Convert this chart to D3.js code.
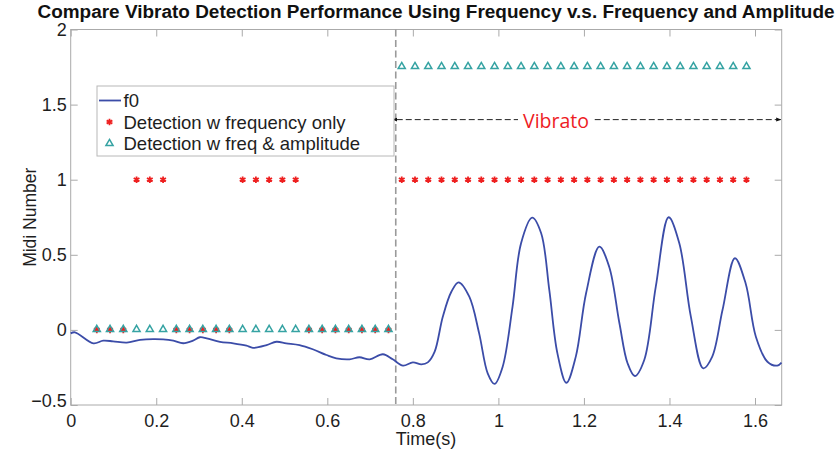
<!DOCTYPE html>
<html>
<head>
<meta charset="utf-8">
<script src="https://cdn.jsdelivr.net/npm/d3@7"></script>
<style>
  html, body { margin: 0; padding: 0; background: #fff; }
  svg { display: block; }
</style>
</head>
<body>
<svg id="chart" width="837" height="453"></svg>
<script>
// ---- data ---------------------------------------------------------------
// pitch contour (seconds, midi offset)
const f0Time = [0.000, 0.010, 0.053, 0.076, 0.099, 0.131, 0.162, 0.193, 0.216, 0.240,
  0.263, 0.286, 0.302, 0.318, 0.349, 0.380, 0.411, 0.426, 0.458, 0.481,
  0.504, 0.535, 0.566, 0.598, 0.621, 0.652, 0.675, 0.699, 0.730, 0.753,
  0.777, 0.800, 0.820, 0.835, 0.851, 0.870, 0.890, 0.907, 0.932, 0.955,
  0.975, 0.991, 1.010, 1.033, 1.053, 1.079, 1.100, 1.119, 1.138, 1.159,
  1.181, 1.205, 1.236, 1.259, 1.283, 1.302, 1.319, 1.341, 1.368, 1.398,
  1.423, 1.450, 1.479, 1.500, 1.524, 1.553, 1.578, 1.602, 1.629, 1.652, 1.662];
const f0Midi = [-0.023, -0.016, -0.089, -0.072, -0.076, -0.085, -0.067, -0.061, -0.063, -0.072,
  -0.089, -0.072, -0.049, -0.056, -0.079, -0.089, -0.105, -0.119, -0.101, -0.079,
  -0.089, -0.101, -0.129, -0.167, -0.189, -0.196, -0.182, -0.196, -0.162, -0.196,
  -0.238, -0.216, -0.229, -0.216, -0.145, 0.088, 0.254, 0.317, 0.221, -0.023,
  -0.289, -0.360, -0.245, 0.154, 0.577, 0.747, 0.643, 0.266, -0.156, -0.352,
  -0.178, 0.244, 0.554, 0.421, 0.044, -0.222, -0.307, -0.200, 0.288, 0.750,
  0.577, 0.088, -0.256, -0.178, 0.132, 0.477, 0.310, -0.045, -0.212, -0.238, -0.218];

// analysis frame centres (seconds)
const frameTime = [0.061, 0.092, 0.123, 0.154, 0.185, 0.216, 0.247, 0.278, 0.309, 0.340,
  0.371, 0.402, 0.433, 0.464, 0.495, 0.526, 0.557, 0.588, 0.619, 0.650,
  0.681, 0.712, 0.743, 0.774, 0.805, 0.836, 0.867, 0.898, 0.929, 0.960,
  0.991, 1.022, 1.053, 1.084, 1.115, 1.146, 1.177, 1.208, 1.239, 1.270,
  1.301, 1.332, 1.363, 1.394, 1.425, 1.456, 1.487, 1.518, 1.549, 1.580];

// detector outputs per frame (plotted level)
const freqOnlyLevel = [0, 0, 0, 1, 1, 1, 0, 0, 0, 0,
  0, 1, 1, 1, 1, 1, 0, 0, 0, 0,
  0, 0, 0, 1, 1, 1, 1, 1, 1, 1,
  1, 1, 1, 1, 1, 1, 1, 1, 1, 1,
  1, 1, 1, 1, 1, 1, 1, 1, 1, 1];
const freqAmpLevel = [0, 0, 0, 0, 0, 0, 0, 0, 0, 0,
  0, 0, 0, 0, 0, 0, 0, 0, 0, 0,
  0, 0, 0, 1.75, 1.75, 1.75, 1.75, 1.75, 1.75, 1.75,
  1.75, 1.75, 1.75, 1.75, 1.75, 1.75, 1.75, 1.75, 1.75, 1.75,
  1.75, 1.75, 1.75, 1.75, 1.75, 1.75, 1.75, 1.75, 1.75, 1.75];

const xTicks = [0, 0.2, 0.4, 0.6, 0.8, 1, 1.2, 1.4, 1.6];
const yTicks = [-0.5, 0, 0.5, 1, 1.5, 2];
const xDomain = [0, 1.6624];
const yDomain = [-0.5, 2];

const vibratoOnset = 0.76;
const vibratoArrowLevel = 1.4;

const seriesNames = ["f0", "Detection w frequency only", "Detection w freq & amplitude"];
const titleText = "Compare Vibrato Detection Performance Using Frequency v.s. Frequency and Amplitude";

// ---- layout -------------------------------------------------------------
const plot = { left: 70.7, right: 781.7, top: 29.5, bottom: 405 };
const colors = { f0: "#3b4ca8", freq: "#ee2020", amp: "#36a3a3", axis: "#aaaaaa", text: "#1e1e1e" };
const font = "'Liberation Sans', Arial, Helvetica, sans-serif";

const svg = d3.select("#chart");
const x = d3.scaleLinear().domain(xDomain).range([plot.left, plot.right]);
const y = d3.scaleLinear().domain(yDomain).range([plot.bottom, plot.top]);
const fmt = d3.format("~g");

// ---- title --------------------------------------------------------------
svg.append("text")
  .attr("x", 436).attr("y", 18)
  .attr("text-anchor", "middle")
  .attr("font-family", font).attr("font-weight", "bold").attr("font-size", 18)
  .attr("fill", "#111")
  .attr("textLength", 797).attr("lengthAdjust", "spacingAndGlyphs")
  .text(titleText);

// ---- axes ---------------------------------------------------------------
const tick = 7;
function styleAxis(g) {
  g.select(".domain").remove();
  g.selectAll(".tick line").attr("stroke", colors.axis);
  g.selectAll(".tick text").attr("fill", colors.text).attr("font-family", font).attr("font-size", 18);
}
svg.append("g").attr("transform", `translate(0,${plot.bottom})`)
  .call(d3.axisBottom(x).tickValues(xTicks).tickFormat(fmt).tickSizeInner(-tick).tickSizeOuter(0).tickPadding(9))
  .call(styleAxis);
svg.append("g").attr("transform", `translate(0,${plot.top})`)
  .call(d3.axisTop(x).tickValues(xTicks).tickFormat("").tickSizeInner(-tick).tickSizeOuter(0))
  .call(styleAxis);
const yAxisG = svg.append("g").attr("transform", `translate(${plot.left},0)`)
  .call(d3.axisLeft(y).tickValues(yTicks).tickFormat(fmt).tickSizeInner(-tick).tickSizeOuter(0).tickPadding(4))
  .call(styleAxis);
// the lowest label sits a little higher so it clears the first time label
yAxisG.selectAll(".tick text").filter(d => d === yDomain[0]).attr("dy", "0.1em");
svg.append("g").attr("transform", `translate(${plot.right},0)`)
  .call(d3.axisRight(y).tickValues(yTicks).tickFormat("").tickSizeInner(-tick).tickSizeOuter(0))
  .call(styleAxis);

svg.append("rect")
  .attr("x", plot.left).attr("y", plot.top)
  .attr("width", plot.right - plot.left).attr("height", plot.bottom - plot.top)
  .attr("fill", "none").attr("stroke", colors.axis).attr("stroke-width", 1);

// axis titles
svg.append("text")
  .attr("x", 426).attr("y", 445)
  .attr("text-anchor", "middle")
  .attr("font-family", font).attr("font-size", 18).attr("fill", colors.text)
  .text("Time(s)");
svg.append("text")
  .attr("transform", `translate(36,${(plot.top + plot.bottom) / 2}) rotate(-90)`)
  .attr("text-anchor", "middle")
  .attr("font-family", font).attr("font-size", 17.5).attr("fill", colors.text)
  .text("Midi Number");

// ---- vibrato onset marker -------------------------------------------------
svg.append("line")
  .attr("x1", x(vibratoOnset)).attr("x2", x(vibratoOnset))
  .attr("y1", plot.top).attr("y2", plot.bottom)
  .attr("stroke", "#9a9a9a").attr("stroke-width", 1.6)
  .attr("stroke-dasharray", "7,3.5");

// ---- f0 contour ---------------------------------------------------------
const line = d3.line()
  .x((d, i) => x(f0Time[i]))
  .y(d => y(d))
  .curve(d3.curveCatmullRom.alpha(0.5));
svg.append("path")
  .attr("d", line(f0Midi))
  .attr("fill", "none")
  .attr("stroke", colors.f0).attr("stroke-width", 1.8)
  .attr("stroke-linejoin", "round");

// ---- detection markers --------------------------------------------------
const asterisk = d3.symbol().type(d3.symbolAsterisk).size(30);
const triangle = d3.symbol().type(d3.symbolTriangle).size(22);

svg.append("g").selectAll("path")
  .data(freqOnlyLevel)
  .join("path")
  .attr("transform", (d, i) => `translate(${x(frameTime[i])},${y(d)})`)
  .attr("d", asterisk)
  .attr("fill", "none").attr("stroke", colors.freq).attr("stroke-width", 1.8);

svg.append("g").selectAll("path")
  .data(freqAmpLevel)
  .join("path")
  .attr("transform", (d, i) => `translate(${x(frameTime[i])},${y(d) - 0.5})`)
  .attr("d", triangle)
  .attr("fill", "none").attr("stroke", colors.amp).attr("stroke-width", 1.5);

// ---- vibrato span annotation ----------------------------------------------
const ay = y(vibratoArrowLevel);
const defs = svg.append("defs");
["start", "end"].forEach(k => {
  defs.append("marker")
    .attr("id", "arrow-" + k)
    .attr("viewBox", "0 0 10 10").attr("refX", k === "end" ? 9 : 1).attr("refY", 5)
    .attr("markerWidth", 5).attr("markerHeight", 5)
    .attr("orient", k === "end" ? "auto" : "auto-start-reverse")
    .append("path").attr("d", "M0,1 L10,5 L0,9 Z").attr("fill", "#111");
});
const labelX = 556;
svg.append("line")
  .attr("x1", x(vibratoOnset) + 1).attr("x2", plot.right - 1)
  .attr("y1", ay).attr("y2", ay)
  .attr("stroke", "#222").attr("stroke-width", 1)
  .attr("stroke-dasharray", "6,3")
  .attr("marker-start", "url(#arrow-start)")
  .attr("marker-end", "url(#arrow-end)");
svg.append("rect")
  .attr("x", labelX - 38).attr("y", ay - 12).attr("width", 76).attr("height", 24)
  .attr("fill", "#fff");
svg.append("text")
  .attr("x", labelX).attr("y", ay + 8.3)
  .attr("text-anchor", "middle")
  .attr("font-family", "'Open Sans', 'Noto Sans', sans-serif").attr("font-size", 19.5)
  .attr("fill", "#ee1c24")
  .text("Vibrato");

// ---- legend -------------------------------------------------------------
const legend = svg.append("g").attr("transform", "translate(97,86)");
legend.append("rect")
  .attr("width", 297).attr("height", 70)
  .attr("fill", "#fff").attr("stroke", "#b8b8b8").attr("stroke-width", 1);
const rowY = [14.5, 36, 57.5];
legend.append("line")
  .attr("x1", 2).attr("x2", 24).attr("y1", rowY[0]).attr("y2", rowY[0])
  .attr("stroke", colors.f0).attr("stroke-width", 1.8);
legend.append("path")
  .attr("transform", `translate(12.5,${rowY[1]})`).attr("d", asterisk)
  .attr("fill", "none").attr("stroke", colors.freq).attr("stroke-width", 1.8);
legend.append("path")
  .attr("transform", `translate(12.5,${rowY[2]})`).attr("d", triangle)
  .attr("fill", "none").attr("stroke", colors.amp).attr("stroke-width", 1.5);
legend.selectAll("text.entry")
  .data(seriesNames)
  .join("text")
  .attr("class", "entry")
  .attr("x", 26.5).attr("y", (d, i) => rowY[i] + 6.6)
  .attr("font-family", font).attr("font-size", 18.5).attr("fill", colors.text)
  .text(d => d);
</script>
</body>
</html>
